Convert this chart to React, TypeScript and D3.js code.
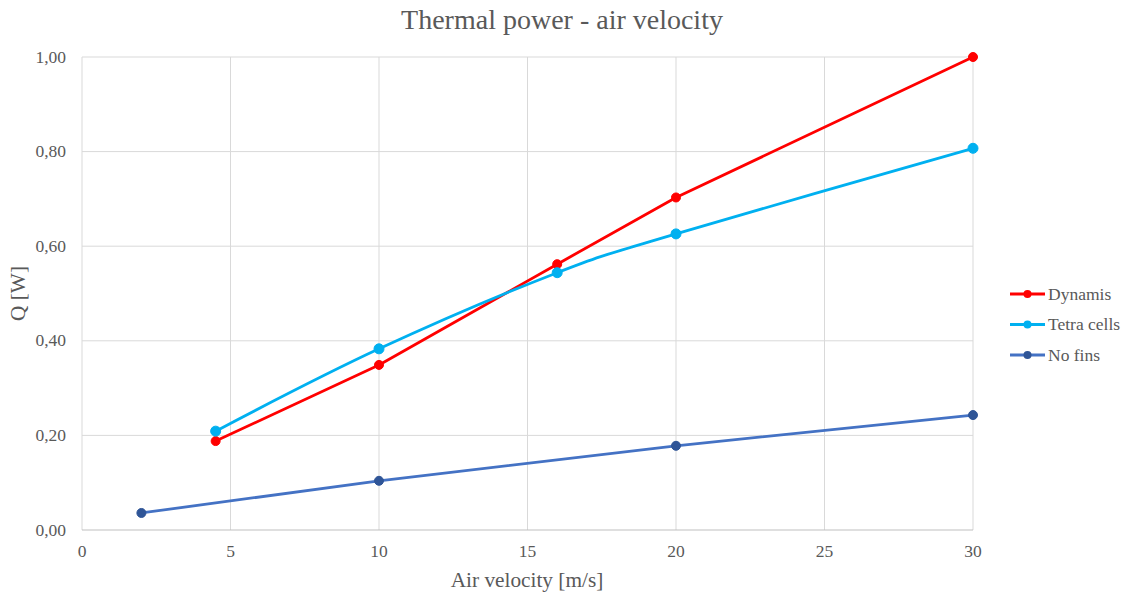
import React, { useEffect, useRef } from "react";
import * as d3 from "d3";

const title = "Thermal power - air velocity";
const xLabel = "Air velocity [m/s]";
const yLabel = "Q [W]";
const xTicks = [0, 5, 10, 15, 20, 25, 30];
const yTicks = [0, 0.2, 0.4, 0.6, 0.8, 1.0];

const dynamisX = [4.5, 10, 16, 20, 30];
const dynamisY = [0.188, 0.349, 0.562, 0.703, 1.0];
const tetraX = [4.5, 10, 16, 20, 30];
const tetraY = [0.209, 0.383, 0.544, 0.626, 0.807];
const nofinsX = [2, 10, 20, 30];
const nofinsY = [0.036, 0.104, 0.178, 0.243];

const seriesNames = ["Dynamis", "Tetra cells", "No fins"];

export default function App() {
  const ref = useRef<SVGSVGElement>(null);
  useEffect(() => {
    const W = 1132, H = 595;
    const svg = d3.select(ref.current);
    svg.selectAll("*").remove();
    const font = "'Liberation Serif', 'Times New Roman', serif";
    const x = d3.scaleLinear().domain([0, 30]).range([82, 973]);
    const y = d3.scaleLinear().domain([0, 1]).range([530, 57]);

    svg.append("rect").attr("width", W).attr("height", H).attr("fill", "#fff");

    // gridlines
    svg.append("g").selectAll("line").data(yTicks.slice(1)).join("line")
      .attr("x1", x(0)).attr("x2", x(30))
      .attr("y1", (d) => y(d)).attr("y2", (d) => y(d))
      .attr("stroke", "#D9D9D9").attr("stroke-width", 1);
    svg.append("g").selectAll("line").data(xTicks).join("line")
      .attr("x1", (d) => x(d)).attr("x2", (d) => x(d))
      .attr("y1", y(0)).attr("y2", y(1))
      .attr("stroke", "#D9D9D9").attr("stroke-width", 1);
    svg.append("line").attr("x1", x(0)).attr("x2", x(30)).attr("y1", y(0)).attr("y2", y(0))
      .attr("stroke", "#BFBFBF").attr("stroke-width", 1);

    // tick labels
    const fmt = (v: number) => v.toFixed(2).replace(".", ",");
    svg.append("g").selectAll("text").data(yTicks).join("text")
      .attr("x", 66).attr("y", (d) => y(d) + 5.5)
      .attr("text-anchor", "end").attr("font-family", font).attr("font-size", 17.5)
      .attr("fill", "#595959").text((d) => fmt(d));
    svg.append("g").selectAll("text").data(xTicks).join("text")
      .attr("x", (d) => x(d)).attr("y", 557)
      .attr("text-anchor", "middle").attr("font-family", font).attr("font-size", 17.5)
      .attr("fill", "#595959").text((d) => String(d));

    // titles
    svg.append("text").attr("x", 562).attr("y", 29).attr("text-anchor", "middle")
      .attr("font-family", font).attr("font-size", 28).attr("fill", "#595959").text(title);
    svg.append("text").attr("x", 527).attr("y", 587).attr("text-anchor", "middle")
      .attr("font-family", font).attr("font-size", 21.3).attr("fill", "#595959").text(xLabel);
    svg.append("text").attr("transform", `translate(25,${y(0.5)}) rotate(-90)`).attr("text-anchor", "middle")
      .attr("font-family", font).attr("font-size", 21.3).attr("fill", "#595959").text(yLabel);

    const series = [
      { name: seriesNames[0], xs: dynamisX, ys: dynamisY, line: "#FF0000", marker: "#FF0000", curve: d3.curveLinear, r: 4.5 },
      { name: seriesNames[1], xs: tetraX, ys: tetraY, line: "#00B0F0", marker: "#00B0F0", curve: d3.curveCatmullRom.alpha(0), r: 5 },
      { name: seriesNames[2], xs: nofinsX, ys: nofinsY, line: "#4472C4", marker: "#2F5597", curve: d3.curveLinear, r: 4.5 },
    ];

    series.forEach((s) => {
      const pts = s.xs.map((v, i) => [v, s.ys[i]] as [number, number]);
      const line = d3.line<[number, number]>().x((d) => x(d[0])).y((d) => y(d[1])).curve(s.curve);
      svg.append("path").attr("d", line(pts)).attr("fill", "none")
        .attr("stroke", s.line).attr("stroke-width", 2.8).attr("stroke-linejoin", "round").attr("stroke-linecap", "round");
      svg.append("g").selectAll("circle").data(pts).join("circle")
        .attr("cx", (d) => x(d[0])).attr("cy", (d) => y(d[1])).attr("r", s.r)
        .attr("fill", s.marker).attr("stroke", s.marker);
    });

    // legend
    const lg = svg.append("g");
    series.forEach((s, i) => {
      const ly = 294 + i * 30.5;
      lg.append("line").attr("x1", 1010).attr("x2", 1045).attr("y1", ly).attr("y2", ly)
        .attr("stroke", s.line).attr("stroke-width", 2.8);
      lg.append("circle").attr("cx", 1027.5).attr("cy", ly).attr("r", 4).attr("fill", s.marker);
      lg.append("text").attr("x", 1048).attr("y", ly + 5.5).attr("font-family", font).attr("font-size", 17.5)
        .attr("fill", "#595959").text(s.name);
    });
  }, []);
  return (
    <svg ref={ref} width={1132} height={595}
      style={{ position: "absolute", left: 0, top: 0, display: "block" }} />
  );
}
